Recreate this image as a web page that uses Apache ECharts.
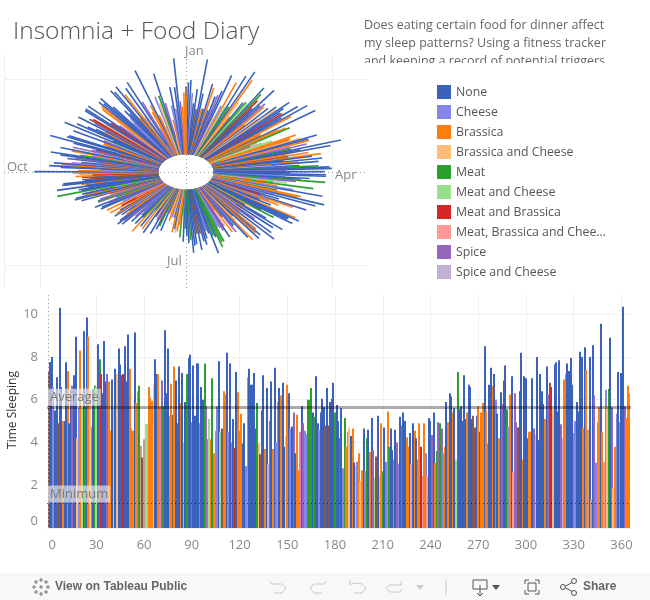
<!DOCTYPE html>
<html><head><meta charset="utf-8">
<style>html,body{margin:0;padding:0;background:#fff}#c{width:650px;height:600px}</style>
<script src="https://cdn.jsdelivr.net/npm/echarts@6/dist/echarts.min.js"></script>
</head><body><div id="c"></div>
<script>
var categories=["None","Cheese","Brassica","Brassica and Cheese","Meat","Meat and Cheese","Meat and Brassica","Meat, Brassica and Cheese","Spice","Spice and Cheese","Spice and Meat","Spice, Meat and Cheese","Spice and Brassica"];
var categoryColors=["#3a62bc","#8686e8","#ff7f0e","#ffbb78","#2ca02c","#98df8a","#d62728","#ff9896","#9467bd","#c5b0d5","#8c564b","#c49c94","#e377c2"];
var legendCount=10;
var sleepHours=[
7.3,7.76,8.0,6.6,5.5,7.05,4.9,10.3,6.6,5.0,5.0,7.75,7.35,4.9,6.45,6.65,7.15,8.95,4.2,5.6,8.3,5.6,9.2,5.7,9.85,8.95,6.4,4.75,6.5,6.65,6.6,8.6,7.9,7.2,6.3,8.75,6.85,7.2,6.85,4.55,6.95,5.6,7.45,7.2,8.4,7.65,7.15,7.2,8.5,6.85,9.05,7.45,4.65,4.55,9.15,5.85,6.4,6.65,3.85,3.3,4.15,4.85,
4.85,6.6,6.1,5.95,6.7,7.9,7.2,7.2,5.7,6.9,5.7,9.25,6.3,8.4,5.25,6.75,5.3,7.55,6.9,4.9,7.55,5.85,7.25,4.0,5.9,7.2,7.95,8.1,4.95,7.6,5.25,7.7,7.7,4.9,6.6,6.0,7.7,5.7,4.15,5.1,4.15,7.0,3.5,4.55,5.7,7.8,4.5,4.65,6.4,6.25,8.2,4.5,7.7,4.0,5.1,3.75,7.3,6.35,4.55,5.35,
3.95,4.9,2.9,7.05,7.45,6.7,6.7,7.25,4.65,5.85,3.95,3.45,5.5,7.15,3.7,6.55,3.0,5.0,6.85,3.7,7.5,4.0,5.9,6.55,6.2,6.8,3.8,4.3,6.7,6.3,4.65,4.75,5.4,3.5,5.3,2.7,4.5,5.7,4.9,4.55,4.4,6.0,6.0,6.55,5.4,5.2,7.1,4.9,4.6,5.4,6.05,5.65,4.8,6.55,4.8,5.9,6.05,6.8,5.4,5.75,5.0,
4.2,5.6,2.8,5.15,3.8,4.5,4.7,4.3,4.65,3.07,2.9,3.1,3.5,2.2,2.7,4.65,2.65,4.2,4.6,3.55,5.15,3.65,2.35,3.35,5.25,2.4,4.9,2.65,4.7,3.1,5.45,3.8,4.65,3.65,3.2,4.6,4.0,3.0,5.2,4.8,5.4,5.0,4.25,3.8,4.45,3.0,4.9,4.55,4.2,3.2,4.9,3.8,2.45,4.9,3.5,2.45,5.15,
5.0,4.35,5.4,3.05,3.6,4.95,4.9,4.65,3.5,3.8,5.9,4.95,6.3,6.15,5.4,5.6,3.2,7.3,5.55,5.7,5.0,7.15,5.1,5.4,6.7,6.6,5.1,5.25,4.7,5.25,5.7,4.5,5.4,5.85,8.5,5.5,3.95,6.7,7.5,6.65,7.2,6.0,5.35,4.2,6.35,5.8,6.9,7.6,5.55,4.75,6.25,7.1,2.6,6.3,4.95,4.7,6.4,8.2,3.2,7.1,7.0,4.2,4.5,
4.5,7.0,4.65,4.35,8.0,4.1,7.2,6.4,5.8,5.1,7.55,6.25,6.8,6.6,5.55,7.65,7.75,5.45,7.85,4.85,4.2,6.95,7.2,7.7,7.35,7.95,6.7,4.45,5.0,5.9,5.45,8.25,8.0,4.7,8.45,7.4,4.6,8.0,1.35,8.55,6.2,3.05,4.95,5.65,9.55,4.5,3.1,6.45,5.7,6.5,8.9,5.65,1.85,3.8,5.35,7.3,4.95,7.25,10.35,5.7,5.15,6.65,6.3];
var foodCode=[
10,0,0,1,0,0,10,0,0,2,0,0,2,0,0,8,0,0,3,1,2,5,0,4,0,2,3,2,0,4,5,0,4,6,0,0,0,8,2,2,0,3,0,3,0,0,0,6,0,0,0,2,2,2,0,2,2,4,11,10,11,5,
5,2,2,2,3,0,0,2,12,8,4,0,0,0,2,2,10,2,0,0,0,2,0,9,0,4,0,0,8,0,0,0,0,1,0,0,4,8,1,5,2,4,2,2,1,0,5,10,2,2,0,1,0,1,0,6,0,2,1,2,
0,0,1,2,0,0,0,0,0,4,3,10,0,0,2,0,9,8,0,2,0,1,2,0,2,0,0,3,2,0,1,0,8,0,2,2,12,0,8,1,1,4,4,4,0,4,0,0,1,0,0,0,10,0,10,0,0,0,4,0,0,
4,0,1,4,2,2,3,0,2,0,3,1,2,3,2,0,1,4,0,2,0,8,5,10,0,3,2,4,0,1,2,4,0,0,1,0,8,1,0,8,0,0,2,2,0,9,0,2,0,2,2,6,7,2,1,7,0,
0,8,0,2,4,8,4,8,1,2,0,2,0,0,2,0,5,4,0,0,0,0,0,2,0,0,0,10,10,0,2,6,2,2,0,2,1,0,0,2,0,1,0,2,0,8,0,0,4,1,2,0,7,8,8,10,0,0,2,0,0,0,2,
2,0,8,5,0,0,0,0,0,2,0,8,10,6,3,0,0,6,0,8,9,2,2,0,0,0,0,1,1,0,0,0,0,2,0,2,11,0,11,0,8,1,2,2,0,2,7,1,3,4,0,8,3,2,1,0,1,0,0,8,2,2,2];
var dayTicks=[0,30,60,90,120,150,180,210,240,270,300,330,360];
var hourTicks=[0,2,4,6,8,10];
var monthLabels=["Jan","Apr","Jul","Oct"];
var averageSleep=5.67, minimumSleep=1.15, holeRadius=1.9;

var dayData=sleepHours.map(function(v,i){return [i,v,foodCode[i]];});
function colorOf(c){return categoryColors[c];}

var legendSeries=categories.slice(0,legendCount).map(function(n,i){
  return {name:n,type:'scatter',xAxisIndex:1,yAxisIndex:1,data:[],itemStyle:{color:categoryColors[i],opacity:1}};
});
var tickFont='"Open Sans"';
var grid='#f0f0f0';

function radial(params,api){
  var d=api.value(0),v=api.value(1)+holeRadius,a=d/365*Math.PI*2;
  var s=Math.sin(a),c=Math.cos(a);
  var p0=api.coord([holeRadius*s,holeRadius*c]),p1=api.coord([v*s,v*c]);
  return {type:'line',shape:{x1:p0[0],y1:p0[1],x2:p1[0],y2:p1[1]},
    style:{stroke:colorOf(api.value(2)),lineWidth:1.6,fill:null}};
}
function dayBar(params,api){
  var top=api.coord([api.value(0),api.value(1)]),base=api.coord([api.value(0),0]);
  return {type:'rect',shape:{x:Math.round(top[0]-1),y:top[1],width:2,height:base[1]-top[1]},
    style:{fill:colorOf(api.value(2))}};
}
function txt(x,y,t,font,fill){
  return {type:'text',style:{x:x,y:y,text:t,font:font,fill:fill,textVerticalAlign:'middle'}};
}
function pl(pts,w){return {type:'polyline',shape:{points:pts},style:{stroke:w||'#c8c8c8',lineWidth:1,fill:null}};}
var descFont='12.5px "Open Sans"', monthFont='13px "Open Sans"';
var gfx=[
 txt(13,32,'Insomnia + Food Diary','300 24.5px "Open Sans"','#555'),
 txt(364,25,'Does eating certain food for dinner affect',descFont,'#666'),
 txt(364,43,'my sleep patterns? Using a fitness tracker',descFont,'#666'),
 txt(364,61,'and keeping a record of potential triggers',descFont,'#666'),
 {type:'rect',shape:{x:362,y:63,width:288,height:14},style:{fill:'#fff'}},
 txt(185,51,monthLabels[0],monthFont,'#888'),
 txt(335,175,monthLabels[1],monthFont,'#888'),
 txt(167,261,monthLabels[2],monthFont,'#888'),
 txt(7,167,monthLabels[3],monthFont,'#888'),
 {type:'text',x:13,y:410,rotation:Math.PI/2,style:{x:0,y:0,text:'Time Sleeping',font:'12px "Open Sans"',fill:'#333',textAlign:'center',textVerticalAlign:'middle'}},
 {type:'rect',shape:{x:0,y:573,width:650,height:27},style:{fill:'#f8f8f8'}},
 txt(55,587,'View on Tableau Public','bold 12px "Liberation Sans"','#666'),
 txt(583,587,'Share','bold 12px "Liberation Sans"','#666')
];
[[41,580],[34,587],[41,587],[48,587],[41,594],[36,582],[46,582],[36,592],[46,592]].forEach(function(p){
  gfx.push(pl([[p[0]-2,p[1]],[p[0]+2,p[1]]],'#777'));gfx.push(pl([[p[0],p[1]-2],[p[0],p[1]+2]],'#777'));
});
gfx.push(pl([[270,581],[272,584],[282,584],[286,588],[282,593],[274,593]]));
gfx.push(pl([[326,581],[324,584],[314,584],[310,588],[314,593],[322,593]]));
gfx.push(pl([[350,580],[350,585],[353,583],[362,584],[366,588],[362,593],[354,593]]));
gfx.push(pl([[401,581],[401,585],[390,585],[386,588],[390,592],[400,592],[402,589]]));
gfx.push({type:'polygon',shape:{points:[[416,585],[424,585],[420,590]]},style:{fill:'#ccc'}});
gfx.push(pl([[446,579],[446,595]]));
gfx.push(pl([[473,580],[487,580],[487,589],[473,589],[473,580]],'#555'));
gfx.push(pl([[480,585],[480,596]],'#555'));gfx.push(pl([[477,593],[480,596],[483,593]],'#555'));
gfx.push({type:'polygon',shape:{points:[[492,585],[500,585],[496,590]]},style:{fill:'#555'}});
gfx.push(pl([[525,584],[525,580],[529,580]],'#555'));gfx.push(pl([[535,580],[539,580],[539,584]],'#555'));
gfx.push(pl([[525,590],[525,594],[529,594]],'#555'));gfx.push(pl([[535,594],[539,594],[539,590]],'#555'));
gfx.push({type:'rect',shape:{x:528,y:583,width:8,height:8},style:{fill:null,stroke:'#555',lineWidth:1}});
gfx.push(pl([[573,582],[564,587],[573,592]],'#555'));
gfx.push({type:'circle',shape:{cx:574,cy:581,r:2.5},style:{fill:'#f8f8f8',stroke:'#555'}});
gfx.push({type:'circle',shape:{cx:563,cy:587,r:2.5},style:{fill:'#f8f8f8',stroke:'#555'}});
gfx.push({type:'circle',shape:{cx:574,cy:593,r:2.5},style:{fill:'#f8f8f8',stroke:'#555'}});

var dotted={color:'#999',type:[1,3],width:1};
var refLabel={show:true,position:'insideStartTop',distance:1,color:'#777',fontSize:13,fontFamily:tickFont,backgroundColor:'rgba(235,235,235,0.65)',padding:[2,2,2,2]};
var option={
 animation:false,backgroundColor:'#fff',
 textStyle:{fontFamily:'"Open Sans"'},
 legend:{show:true,orient:'vertical',left:432,top:80,itemWidth:14,itemHeight:14,itemGap:6,icon:'rect',selectedMode:false,
   data:categories.slice(0,legendCount),
   textStyle:{color:'#555',fontSize:12.3,fontFamily:'"Open Sans"',width:153,overflow:'truncate',ellipsis:'…'},formatter:'{name}'},
 grid:[{left:4,top:55,width:364,height:233,outerBoundsMode:'none'},{left:47,top:295,width:584,height:233,outerBoundsMode:'none'}],
 xAxis:[
  {gridIndex:0,type:'value',min:-12.47,max:12.47,axisLine:{show:false},axisLabel:{show:false},axisTick:{show:false,customValues:[-12.47,-10,10]},splitLine:{show:true,lineStyle:{color:grid,width:1}}},
  {gridIndex:1,type:'value',min:-1,max:366,axisLine:{show:true,lineStyle:{color:grid}},
   axisTick:{show:false,customValues:dayTicks},
   axisLabel:{color:'#888',fontSize:13,margin:11,customValues:dayTicks,alignMinLabel:'left',fontFamily:tickFont},
   splitLine:{show:true,lineStyle:{color:grid,width:1}}}
 ],
 yAxis:[
  {gridIndex:0,type:'value',min:-12.47,max:12.58,axisLine:{show:false},axisLabel:{show:false},axisTick:{show:false,customValues:[-10,10]},splitLine:{show:true,lineStyle:{color:grid,width:1}}},
  {gridIndex:1,type:'value',min:0,max:10.9,
   axisLine:{show:false},axisTick:{show:false,customValues:hourTicks},
   axisLabel:{color:'#888',fontSize:13,margin:9,customValues:hourTicks,verticalAlignMinLabel:'bottom',fontFamily:tickFont},
   splitLine:{show:true,lineStyle:{color:grid,width:1}}}
 ],
 series:legendSeries.concat([
  {name:'radial',type:'custom',xAxisIndex:0,yAxisIndex:0,data:dayData,renderItem:radial,clip:false,silent:true,z:3,
   encode:{x:0,y:1},
   markLine:{silent:true,symbol:'none',label:{show:false},lineStyle:dotted,z:1,data:[{xAxis:0},{yAxis:0}]}},
  {name:'bars',type:'custom',xAxisIndex:1,yAxisIndex:1,silent:true,z:3,data:dayData,renderItem:dayBar,encode:{x:0,y:1},
   markLine:{silent:true,symbol:'none',z:6,
     data:[
      {yAxis:averageSleep,lineStyle:{color:'rgba(0,0,0,0.33)',width:3,type:'solid'},label:Object.assign({formatter:'Average'},refLabel)},
      {yAxis:minimumSleep,lineStyle:{color:'rgba(0,0,0,0.6)',width:1,type:[1,3]},label:Object.assign({formatter:'Minimum'},refLabel)},
      {xAxis:0,lineStyle:{color:'#aaa',width:1,type:[1,3]},label:{show:false}}
     ]}}
 ]),
 graphic:{elements:gfx}
};
var chart=echarts.init(document.getElementById('c'),null,{renderer:'canvas'});
chart.setOption(option);
</script></body></html>
